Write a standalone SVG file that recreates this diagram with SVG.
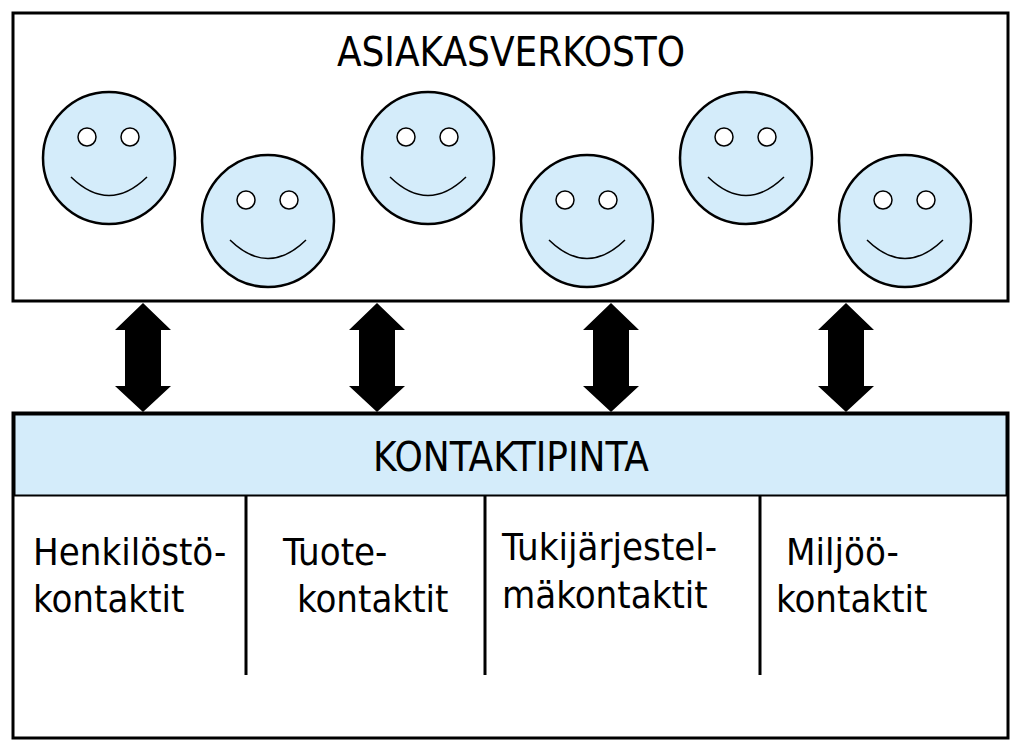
<svg xmlns="http://www.w3.org/2000/svg" width="1024" height="755" viewBox="0 0 1024 755">
<style>
.t{font-family:"DejaVu Sans Condensed","DejaVu Sans",sans-serif;fill:#000}
.face{fill:#d4ecfa;stroke:#000;stroke-width:2.5}
.eye{fill:#fff;stroke:#000;stroke-width:1.5}
.smile{fill:none;stroke:#000;stroke-width:1.5}
.box{fill:#fff;stroke:#000;stroke-width:3}
</style>
<defs>
<g id="smiley">
<circle class="face" r="66"/>
<circle class="eye" cx="-22" cy="-21" r="9"/>
<circle class="eye" cx="21" cy="-21" r="9"/>
<path class="smile" d="M-38 19 Q0 56 38 19"/>
</g>
<path id="arr" d="M0 0 L28 27 L18 27 L18 83 L28 83 L0 109 L-28 83 L-18 83 L-18 27 L-28 27 Z" fill="#000"/>
</defs>
<rect width="1024" height="755" fill="#fff"/>
<g id="asiakasverkosto">
<rect class="box" x="13" y="13" width="995" height="288"/>
<text class="t" x="511" y="66" font-size="40" text-anchor="middle">ASIAKASVERKOSTO</text>
<use href="#smiley" x="109" y="158"/>
<use href="#smiley" x="268" y="221"/>
<use href="#smiley" x="428" y="158"/>
<use href="#smiley" x="587" y="221"/>
<use href="#smiley" x="746" y="158"/>
<use href="#smiley" x="905" y="221"/>
</g>
<g id="connectors">
<use href="#arr" x="143" y="303"/>
<use href="#arr" x="377" y="303"/>
<use href="#arr" x="611" y="303"/>
<use href="#arr" x="846" y="303"/>
</g>
<g id="kontaktipinta">
<rect class="box" x="13" y="413" width="995" height="325"/>
<rect x="14.5" y="414.5" width="992" height="81" fill="#d4ecfa" stroke="#000" stroke-width="2"/>
<text class="t" x="511" y="471" font-size="40" text-anchor="middle">KONTAKTIPINTA</text>
<path d="M246 496V675M485 496V675M760 496V675" stroke="#000" stroke-width="3"/>
</g>
<g id="henkilosto"><text class="t" font-size="38"><tspan x="33" y="565">Henkilöstö-</tspan><tspan x="33" y="612">kontaktit</tspan></text></g>
<g id="tuote"><text class="t" font-size="38"><tspan x="283" y="565">Tuote-</tspan><tspan x="297" y="612">kontaktit</tspan></text></g>
<g id="tukijarjestelma"><text class="t" font-size="38"><tspan x="502" y="560">Tukijärjestel-</tspan><tspan x="502" y="608">mäkontaktit</tspan></text></g>
<g id="miljoo"><text class="t" font-size="38"><tspan x="786" y="565">Miljöö-</tspan><tspan x="776" y="612">kontaktit</tspan></text></g>
</svg>
